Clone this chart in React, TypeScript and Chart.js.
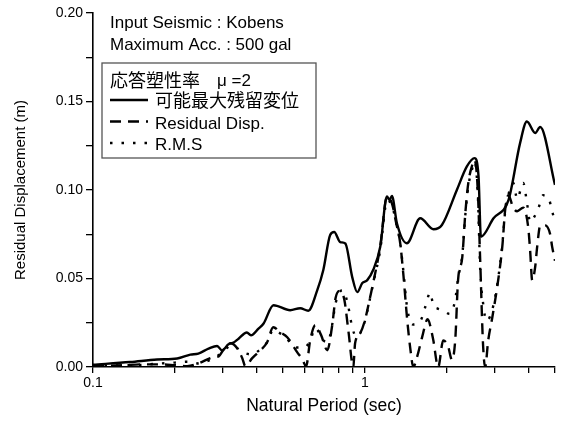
import React, { useEffect, useRef } from "react";
import { Chart, registerables } from "chart.js";

Chart.register(...registerables);

// ---------- data ----------
const MAX_PERIODS = [0.1, 0.137, 0.172, 0.204, 0.228, 0.244, 0.266, 0.286, 0.298, 0.315, 0.329, 0.343, 0.368, 0.381, 0.406, 0.424, 0.461, 0.531, 0.578, 0.619, 0.668, 0.703, 0.745, 0.771, 0.811, 0.847, 0.898, 0.937, 0.978, 1.02, 1.072, 1.138, 1.205, 1.231, 1.257, 1.311, 1.426, 1.597, 1.787, 1.919, 2.178, 2.371, 2.53, 2.617, 2.67, 2.971, 3.374, 3.72, 3.94, 4.23, 4.41, 5.0];
const MAX_VALUES = [0.0013, 0.0028, 0.0042, 0.0048, 0.007, 0.0076, 0.0104, 0.0119, 0.0094, 0.0128, 0.0138, 0.016, 0.0195, 0.0179, 0.0217, 0.0246, 0.0349, 0.0321, 0.0332, 0.0318, 0.0434, 0.0548, 0.0746, 0.0763, 0.0706, 0.0698, 0.0508, 0.0423, 0.0474, 0.0491, 0.0548, 0.0678, 0.0963, 0.0944, 0.0967, 0.0812, 0.0699, 0.084, 0.0778, 0.0802, 0.1, 0.1133, 0.118, 0.1076, 0.0736, 0.084, 0.0944, 0.1265, 0.1387, 0.1322, 0.1356, 0.1029];

const RES_PERIODS = [0.1, 0.13, 0.15, 0.177, 0.2, 0.222, 0.244, 0.27, 0.277, 0.29, 0.301, 0.32, 0.339, 0.354, 0.363, 0.385, 0.405, 0.437, 0.46, 0.488, 0.518, 0.564, 0.588, 0.608, 0.629, 0.657, 0.69, 0.727, 0.758, 0.78, 0.81, 0.84, 0.87, 0.906, 0.92, 0.96, 1.0, 1.045, 1.072, 1.138, 1.207, 1.259, 1.3, 1.348, 1.383, 1.431, 1.467, 1.506, 1.557, 1.624, 1.7, 1.78, 1.86, 1.94, 2.02, 2.09, 2.15, 2.2, 2.28, 2.34, 2.4, 2.48, 2.53, 2.6, 2.654, 2.72, 2.768, 2.84, 2.94, 3.09, 3.2, 3.28, 3.37, 3.51, 3.63, 3.82, 3.985, 4.05, 4.122, 4.227, 4.3, 4.413, 4.6, 4.8, 4.88, 5.0];
const RES_VALUES = [0.0005, 0.001, 0.0015, 0.0015, 0.001, 0.0005, 0.002, 0.005, 0.0055, 0.006, 0.0095, 0.0134, 0.0106, 0.005, 0.0005, 0.005, 0.0083, 0.014, 0.0225, 0.0196, 0.0168, 0.0083, 0.0044, 0.0005, 0.0151, 0.0236, 0.018, 0.0095, 0.0236, 0.039, 0.043, 0.038, 0.02, 0.0, 0.0134, 0.019, 0.0264, 0.0395, 0.0474, 0.068, 0.0963, 0.092, 0.082, 0.07, 0.0531, 0.0264, 0.011, 0.0, 0.006, 0.017, 0.027, 0.016, 0.0, 0.015, 0.012, 0.004, 0.016, 0.049, 0.062, 0.087, 0.104, 0.114, 0.117, 0.1, 0.06, 0.012, 0.0, 0.015, 0.028, 0.049, 0.068, 0.089, 0.097, 0.09, 0.088, 0.09, 0.079, 0.066, 0.049, 0.0565, 0.068, 0.08, 0.08, 0.075, 0.068, 0.06];

const RMS_PERIODS = [0.1, 0.13, 0.15, 0.177, 0.2, 0.222, 0.244, 0.27, 0.301, 0.32, 0.339, 0.36, 0.385, 0.405, 0.437, 0.46, 0.488, 0.518, 0.531, 0.56, 0.6, 0.629, 0.657, 0.703, 0.73, 0.758, 0.78, 0.826, 0.861, 0.898, 0.93, 0.96, 1.0, 1.045, 1.072, 1.138, 1.207, 1.259, 1.3, 1.348, 1.383, 1.431, 1.5, 1.6, 1.667, 1.738, 1.783, 1.85, 1.941, 2.05, 2.148, 2.2, 2.28, 2.34, 2.4, 2.48, 2.53, 2.6, 2.654, 2.72, 2.8, 2.97, 3.09, 3.2, 3.28, 3.365, 3.51, 3.63, 3.82, 3.95, 4.05, 4.2, 4.35, 4.52, 4.72, 4.88, 5.0];
const RMS_VALUES = [0.0005, 0.001, 0.0012, 0.002, 0.0025, 0.003, 0.002, 0.004, 0.0085, 0.012, 0.0106, 0.008, 0.007, 0.009, 0.014, 0.021, 0.019, 0.016, 0.0134, 0.011, 0.011, 0.015, 0.022, 0.015, 0.014, 0.024, 0.036, 0.0434, 0.037, 0.0225, 0.017, 0.019, 0.026, 0.039, 0.047, 0.066, 0.094, 0.091, 0.082, 0.07, 0.055, 0.033, 0.024, 0.026, 0.034, 0.042, 0.035, 0.033, 0.032, 0.03, 0.038, 0.05, 0.063, 0.086, 0.102, 0.112, 0.116, 0.098, 0.055, 0.036, 0.026, 0.035, 0.05, 0.069, 0.088, 0.097, 0.104, 0.095, 0.104, 0.092, 0.082, 0.085, 0.09, 0.097, 0.096, 0.088, 0.082];

const SERIES_LABELS = ["可能最大残留変位", "Residual Disp.", "R.M.S"];
const LEGEND_TITLE_JP = "応答塑性率";
const LEGEND_TITLE_MU = "μ =2";
const NOTE_LINES = ["Input Seismic : Kobens", "Maximum Acc. : 500 gal"];
const X_TICKS = [0.1, 0.2, 0.3, 0.4, 0.5, 0.6, 0.7, 0.8, 0.9, 1, 2, 3, 4, 5];
const X_LABELED = [0.1, 1];
const X_TITLE = "Natural Period (sec)";
const Y_TITLE = "Residual Displacement (m)";

const LATIN = "'Liberation Sans', Arial, sans-serif";
const CJK = "'Noto Sans CJK JP', 'Liberation Sans', sans-serif";

const pts = (xs: number[], ys: number[]) => xs.map((x, i) => ({ x, y: ys[i] }));

const overlayPlugin = {
  id: "overlay",
  afterDraw(chart: any) {
    const ctx = chart.ctx as CanvasRenderingContext2D;
    const a = chart.chartArea;
    const L = a.left;
    const T = a.top;
    ctx.save();
    ctx.fillStyle = "#000";
    ctx.textBaseline = "alphabetic";
    ctx.textAlign = "left";
    ctx.font = `17px ${LATIN}`;
    NOTE_LINES.forEach((t, i) => ctx.fillText(t, L + 17, T + 15 + i * 22));

    // legend box
    const bx = L + 9, by = T + 50, bw = 214, bh = 95;
    ctx.strokeStyle = "#555";
    ctx.lineWidth = 1.3;
    ctx.strokeRect(bx, by, bw, bh);

    ctx.font = `18px ${CJK}`;
    ctx.fillText(LEGEND_TITLE_JP, bx + 8, by + 24);
    ctx.font = `17px ${LATIN}`;
    ctx.fillText(LEGEND_TITLE_MU, bx + 115, by + 23);

    const ds = chart.data.datasets;
    ds.forEach((d: any, i: number) => {
      const ly = by + 37 + i * 21.5;
      ctx.save();
      ctx.strokeStyle = d.borderColor;
      ctx.lineWidth = d.borderWidth;
      ctx.setLineDash(d.borderDash || []);
      ctx.lineCap = d.borderCapStyle || "butt";
      ctx.beginPath();
      ctx.moveTo(bx + 8, ly);
      ctx.lineTo(bx + 46, ly);
      ctx.stroke();
      ctx.restore();
      ctx.font = i === 0 ? `18px ${CJK}` : `17px ${LATIN}`;
      ctx.fillText(d.label, bx + 53, ly + 7);
    });
    ctx.restore();
  },
};

export default function App() {
  const ref = useRef<HTMLCanvasElement>(null);
  useEffect(() => {
    if (!ref.current) return;
    const chart = new Chart(ref.current, {
      type: "line",
      data: {
        datasets: [
          {
            label: SERIES_LABELS[0],
            data: pts(MAX_PERIODS, MAX_VALUES),
            borderColor: "#000",
            borderWidth: 2.4,
            borderDash: [],
            pointRadius: 0,
            cubicInterpolationMode: "monotone",
            fill: false,
          },
          {
            label: SERIES_LABELS[1],
            data: pts(RES_PERIODS, RES_VALUES),
            borderColor: "#000",
            borderWidth: 2.4,
            borderDash: [11, 7],
            pointRadius: 0,
            cubicInterpolationMode: "monotone",
            fill: false,
          },
          {
            label: SERIES_LABELS[2],
            data: pts(RMS_PERIODS, RMS_VALUES),
            borderColor: "#000",
            borderWidth: 2.4,
            borderDash: [2.5, 9],
            pointRadius: 0,
            cubicInterpolationMode: "monotone",
            fill: false,
          },
        ],
      } as any,
      options: {
        animation: false,
        responsive: true,
        maintainAspectRatio: false,
        layout: { padding: { top: 13, right: 11, left: 0, bottom: 0 } },
        plugins: { legend: { display: false }, tooltip: { enabled: false }, title: { display: false } },
        scales: {
          x: {
            type: "logarithmic",
            min: 0.1,
            max: 5,
            afterBuildTicks: (s: any) => {
              s.ticks = X_TICKS.map((v) => ({ value: v, major: X_LABELED.includes(v) }));
            },
            afterFit: (s: any) => {
              s.height = 57;
            },
            ticks: {
              autoSkip: false,
              maxRotation: 0,
              color: "#000",
              padding: 2,
              font: { family: LATIN, size: 14 },
              callback: (v: any) => (X_LABELED.includes(Number(v)) ? String(Number(v)) : ""),
            },
            grid: { display: true, drawOnChartArea: false, drawTicks: true, tickLength: 6, color: "#000", lineWidth: 1.3 },
            border: { display: true, color: "#000", width: 1.6 },
            title: { display: true, text: X_TITLE, color: "#000", font: { family: LATIN, size: 17.5 }, padding: { top: 4, bottom: 7 } },
          },
          y: {
            type: "linear",
            min: 0,
            max: 0.2,
            afterFit: (s: any) => {
              s.width = 93;
            },
            ticks: {
              stepSize: 0.025,
              color: "#000",
              padding: 3,
              font: { family: LATIN, size: 14 },
              callback: (v: any) => {
                const r = Number(v) / 0.05;
                return Math.abs(r - Math.round(r)) < 1e-6 ? Number(v).toFixed(2) : "";
              },
            },
            grid: { display: true, drawOnChartArea: false, drawTicks: true, tickLength: 7, color: "#000", lineWidth: 1.3 },
            border: { display: true, color: "#000", width: 1.6 },
            title: { display: true, text: Y_TITLE, color: "#000", font: { family: LATIN, size: 15 }, padding: { top: 12, bottom: 0 } },
          },
        },
      } as any,
      plugins: [overlayPlugin],
    });
    return () => chart.destroy();
  }, []);
  return (
    <div style={{ position: "fixed", left: 0, top: 0, width: 566, height: 424, background: "#fff" }}>
      <canvas ref={ref} style={{ width: "100%", height: "100%" }} />
    </div>
  );
}
